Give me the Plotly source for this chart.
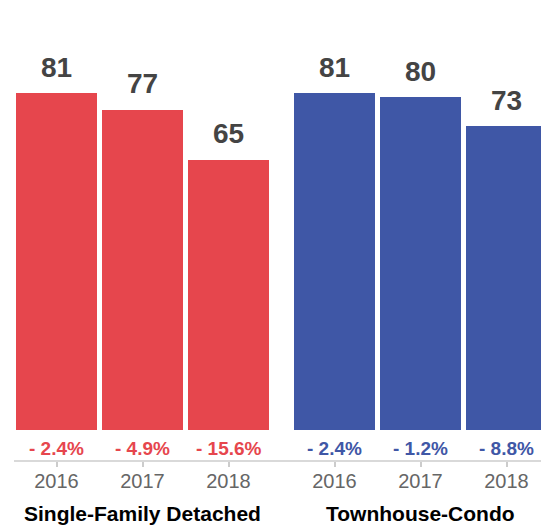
import plotly.graph_objects as go

# Data
groups = ["Single-Family Detached", "Townhouse-Condo"]
years = ["2016", "2017", "2018"]
single_family = [81, 77, 65]
townhouse_condo = [81, 80, 73]
single_family_change = ["- 2.4%", "- 4.9%", "- 15.6%"]
townhouse_condo_change = ["- 2.4%", "- 1.2%", "- 8.8%"]

RED = "#E6464D"
BLUE = "#3F57A6"
FONT = "Helvetica Neue, Helvetica, Arial, Liberation Sans, sans-serif"

# Horizontal layout (x axis measured in pixels across the figure)
BAR_W = 81
STEP = 86
GROUP_STARTS = [16, 294]

series = [
    (single_family, single_family_change, RED),
    (townhouse_condo, townhouse_condo_change, BLUE),
]

fig = go.Figure()
annotations = []
tickvals, ticktext = [], []

for g, (vals, changes, color) in enumerate(series):
    xs = [GROUP_STARTS[g] + BAR_W / 2 + i * STEP for i in range(len(vals))]
    fig.add_trace(go.Bar(
        x=xs, y=vals, width=BAR_W,
        marker=dict(color=color, line=dict(width=0)),
        hoverinfo="skip", showlegend=False,
    ))
    for x, v, c, yr in zip(xs, vals, changes, years):
        annotations.append(dict(
            x=x, y=v, xref="x", yref="y", text=str(v), showarrow=False,
            yanchor="middle", yshift=26,
            font=dict(family=FONT, size=28, color="#444444", weight="bold"),
        ))
        annotations.append(dict(
            x=x, y=0, xref="x", yref="y", text=c, showarrow=False,
            yanchor="middle", yshift=-18,
            font=dict(family=FONT, size=19, color=color, weight="bold"),
        ))
        tickvals.append(x)
        ticktext.append(yr)
    annotations.append(dict(
        x=xs[1], y=-0.113, xref="x", yref="paper", text=groups[g],
        showarrow=False, yanchor="middle",
        font=dict(family=FONT, size=21, color="#000000", weight="bold"),
    ))

fig.update_layout(
    width=541, height=527,
    margin=dict(l=0, r=0, t=0, b=66),
    paper_bgcolor="white", plot_bgcolor="white",
    bargap=0,
    annotations=annotations,
    shapes=[dict(type="line", xref="x", yref="paper", x0=14, x1=541,
                 y0=0, y1=0, line=dict(color="#CCCCCC", width=1.5))],
    xaxis=dict(
        range=[0, 541], showgrid=False, zeroline=False, showline=False,
        tickmode="array", tickvals=tickvals, ticktext=ticktext,
        ticks="outside", ticklen=5, tickcolor="#CCCCCC", tickwidth=1.5,
        ticklabelstandoff=-3,
        tickfont=dict(family=FONT, size=20, color="#666666"),
        fixedrange=True,
    ),
    yaxis=dict(
        range=[-7.45, 103.4], visible=False, fixedrange=True,
    ),
)

fig.write_html("out.html")
